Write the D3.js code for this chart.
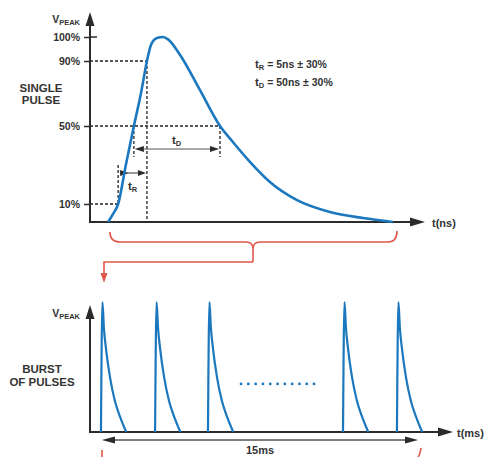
<!DOCTYPE html>
<html><head><meta charset="utf-8">
<script src="https://cdn.jsdelivr.net/npm/d3@7"></script>
<style>
body{margin:0;background:#fff}
text{font-family:"Liberation Sans",Arial,sans-serif;font-weight:bold;fill:#333}
</style>
</head><body><svg id="c" width="491" height="457"></svg>
<script>
// ---------- data ----------
const yTickValues = [10, 50, 90, 100];            // % of Vpeak
// single pulse (time in arbitrary ns units, value in % of Vpeak)
const pulseT = [5.4, 6.9, 8.4, 10.7, 13.1, 15.2, 17.0, 18.2, 20.0, 21.8, 23.3, 26.9, 32.8, 38.8, 42.4, 47.8, 53.7, 61.8, 71.6, 81.5, 90.4];
const pulseV = [0,   4.5, 10,  30,   50,   70,   90,   96.7, 99.6, 100, 99,   92.5, 72.2, 50,   42.3, 31.5, 21.3, 12,   5.6,  2.2,  0];
// crossing times
const t10 = 8.4, t50r = 13.1, t90 = 17.0, t50f = 38.8;
const specSub = ["R", "D"];
const specText = [" = 5ns \u00b1 30%", " = 50ns \u00b1 30%"];
// burst (ms)
const burstStarts = [-0.05, 2.52, 5.03, 11.44, 14.0];
const burstShapeT = [0, 0.07, 0.14, 0.24, 0.43, 0.66, 0.90, 1.2];
const burstShapeV = [0, 1, 0.80, 0.64, 0.42, 0.24, 0.12, 0];
const burstSpan = [0, 15];
const burstLabel = "15ms";

// ---------- drawing ----------
const svg = d3.select("#c");
const AX = "#2b2b2b", BLUE = "#1b78be", RED = "#e0584a";

function tri(tx, ty, dir, L, W, col) {
  let p;
  if (dir === "up") p = [[tx, ty], [tx - W / 2, ty + L], [tx + W / 2, ty + L]];
  if (dir === "right") p = [[tx, ty], [tx - L, ty - W / 2], [tx - L, ty + W / 2]];
  if (dir === "left") p = [[tx, ty], [tx + L, ty - W / 2], [tx + L, ty + W / 2]];
  if (dir === "down") p = [[tx, ty], [tx - W / 2, ty - L], [tx + W / 2, ty - L]];
  svg.append("path").attr("d", "M" + p.join("L") + "Z").attr("fill", col);
}
function line(x1, y1, x2, y2, col, w, dash) {
  const l = svg.append("line").attr("x1", x1).attr("y1", y1).attr("x2", x2).attr("y2", y2)
    .attr("stroke", col).attr("stroke-width", w);
  if (dash) l.attr("stroke-dasharray", dash);
  return l;
}
function vpeak(xEnd, y) {
  const t = svg.append("text").attr("x", xEnd).attr("y", y).attr("text-anchor", "end");
  t.append("tspan").text("V").attr("font-size", 10.5);
  t.append("tspan").text("PEAK").attr("font-size", 7.5).attr("dy", 2);
}

// ===== top chart =====
const x1 = d3.scaleLinear().domain([0, 100]).range([90, 425]);
const y1 = d3.scaleLinear().domain([0, 10, 50, 90, 100]).range([222, 204, 126, 61, 37]);

// dashed guides
const DASH = "3,2", DC = "#222", DW = 1.3;
line(x1(0), y1(90), x1(t90), y1(90), DC, DW, DASH);
line(x1(0), y1(50), x1(t50f), y1(50), DC, DW, DASH);
line(x1(0), y1(10), x1(t10), y1(10), DC, DW, DASH);
line(x1(t90), y1(90), x1(t90), y1(0), DC, DW, DASH);
const tdLevel = 38.2, trLevel = 25.9;
line(x1(t50r), y1(50), x1(t50r), y1(tdLevel) + 8, DC, DW, DASH);
line(x1(t50f), y1(50), x1(t50f), y1(tdLevel) + 8, DC, DW, DASH);
line(x1(t10), y1(trLevel) - 8, x1(t10), y1(10), DC, DW, DASH);

// tD arrow
line(x1(t50r) + 3, y1(tdLevel), x1(t50f) - 3, y1(tdLevel), "#555", 1.2);
tri(x1(t50r) + 1, y1(tdLevel), "left", 9, 6, AX);
tri(x1(t50f) - 1, y1(tdLevel), "right", 9, 6, AX);
// tR arrow
line(x1(t10) + 2, y1(trLevel), x1(t90) - 3, y1(trLevel), "#555", 1.2);
tri(x1(t10) + 10, y1(trLevel), "right", 8, 6, AX);
tri(x1(t90) - 1, y1(trLevel), "right", 8, 6, AX);

// axes
line(x1(0), y1(0), x1(0), 24, AX, 2);
tri(x1(0), 12, "up", 14, 9, AX);
line(x1(0) - 1, y1(0), x1(100) - 12, y1(0), AX, 2);
tri(x1(100), y1(0), "right", 15, 9, AX);

const yAxis = d3.axisLeft(y1).tickValues(yTickValues).tickFormat(d => d + "%").tickSize(6).tickPadding(4);
const gy = svg.append("g").attr("transform", `translate(${x1(0)},0)`).call(yAxis);
gy.select(".domain").remove();
gy.selectAll(".tick line").attr("stroke", AX).attr("stroke-width", 1.5);
gy.selectAll(".tick text").attr("font-size", 10.5).attr("fill", "#333")
  .style("font-family", '"Liberation Sans",Arial,sans-serif').style("font-weight", "bold");
line(x1(0), y1(100), x1(0) + 7, y1(100), AX, 1.5);

// pulse curve
const pulseLine = d3.line().x(d => x1(pulseT[d])).y(d => y1(pulseV[d])).curve(d3.curveMonotoneX);
svg.append("path").attr("d", pulseLine(d3.range(pulseT.length)))
  .attr("fill", "none").attr("stroke", BLUE).attr("stroke-width", 2.6);

// labels
vpeak(80, 23);
svg.append("text").attr("x", 41).attr("y", 92).attr("text-anchor", "middle").attr("font-size", 11.5).text("SINGLE");
svg.append("text").attr("x", 41).attr("y", 104).attr("text-anchor", "middle").attr("font-size", 11.5).text("PULSE");
svg.append("text").attr("x", 432).attr("y", 227).attr("font-size", 11).text("t(ns)");
specSub.forEach((s, i) => {
  const t = svg.append("text").attr("x", 255).attr("y", 68 + i * 18).attr("font-size", 10.5);
  t.append("tspan").text("t").attr("font-size", 11.5);
  t.append("tspan").text(s).attr("font-size", 7.5).attr("dy", 2);
  t.append("tspan").text(specText[i]).attr("dy", -2);
});
function subLabel(x, y, s) {
  const t = svg.append("text").attr("x", x).attr("y", y).attr("font-size", 11.5);
  t.append("tspan").text("t");
  t.append("tspan").text(s).attr("font-size", 7.5).attr("dy", 2);
}
subLabel(172, 144, "D");
subLabel(128, 190, "R");

// red bracket and connector
svg.append("path")
  .attr("d", "M110,232 Q110,242 120,242 L246,242 Q253,242 253,249 L253,262 M253,249 Q253,242 260,242 L388,242 Q397,242 397,231")
  .attr("fill", "none").attr("stroke", RED).attr("stroke-width", 1.6);
svg.append("path").attr("d", "M253,262 L104,262 L104,274").attr("fill", "none").attr("stroke", RED).attr("stroke-width", 1.6);
tri(104, 283, "down", 10, 7, RED);

// ===== bottom chart =====
const x2 = d3.scaleLinear().domain(burstSpan).range([102, 418]);
const y2 = d3.scaleLinear().domain([0, 1]).range([432, 302]);

line(90, y2(0), 90, 318, AX, 2);
tri(90, 305, "up", 14, 9, AX);
line(89, y2(0), 440, y2(0), AX, 2);
tri(453, y2(0), "right", 15, 9, AX);

const burstLine = d3.line().curve(d3.curveMonotoneX);
burstStarts.forEach(s => {
  const pts = burstShapeT.map((t, i) => [x2(s + t), y2(burstShapeV[i])]);
  svg.append("path").attr("d", burstLine(pts)).attr("fill", "none").attr("stroke", BLUE).attr("stroke-width", 2.2);
});
// ellipsis
line(x2(6.6), y2(0.37), x2(10.4), y2(0.37), BLUE, 2.8, "0,7.3").attr("stroke-linecap", "round");

// 15ms arrow
const yArr = 440;
line(x2(burstSpan[0]) + 8, yArr, x2(burstSpan[1]) - 8, yArr, "#555", 1.6);
tri(x2(burstSpan[0]), yArr, "left", 13, 7, AX);
tri(x2(burstSpan[1]), yArr, "right", 13, 7, AX);
svg.append("text").attr("x", x2((burstSpan[0] + burstSpan[1]) / 2)).attr("y", 454).attr("text-anchor", "middle").attr("font-size", 11).text(burstLabel);

vpeak(80, 317);
svg.append("text").attr("x", 42).attr("y", 373).attr("text-anchor", "middle").attr("font-size", 11.5).text("BURST");
svg.append("text").attr("x", 42).attr("y", 386).attr("text-anchor", "middle").attr("font-size", 11.5).text("OF PULSES");
svg.append("text").attr("x", 457).attr("y", 437).attr("font-size", 11).text("t(ms)");

// cut-off red bracket at bottom
svg.append("path").attr("d", "M102,450 L102,457 M421,448 Q420,455 418,457").attr("fill", "none").attr("stroke", RED).attr("stroke-width", 1.6);
</script></body></html>
